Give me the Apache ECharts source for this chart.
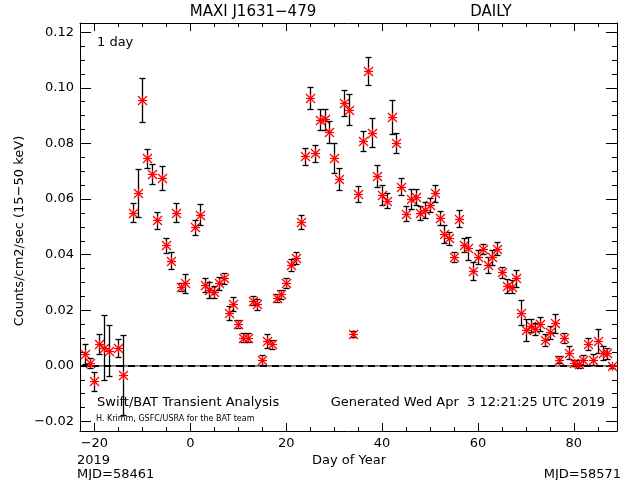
<!DOCTYPE html>
<html><head><meta charset="utf-8">
<script src="https://cdn.jsdelivr.net/npm/echarts@6/dist/echarts.min.js"></script>
<style>html,body{margin:0;padding:0;background:#fff}#c{width:640px;height:480px}</style>
</head><body><div id="c"></div>
<script>
// Day of year 2019 (MJD - 58483)
const days = [-22,-21,-20,-19,-18,-17,-15,-14,-12,-11,-10,-9,-8,-7,-6,-5,-4,-3,-2,-1,
  1,2,3,4,5,6,7,8,9,10,11,12,13,14,15,16,17,18,19,20,21,22,23,24,25,26,27,28,29,30,
  31,32,33,34,35,36,37,38,39,40,41,42,43,44,45,46,47,48,49,50,51,52,53,54,55,56,57,58,59,60,
  61,62,63,64,65,66,67,68,69,70,71,72,73,74,75,76,77,78,79,80,81,82,83,84,85,86,87,88];
const rates = [0.0042,0.0010,-0.0056,0.0078,0.0066,0.0055,0.0064,-0.0032,0.0551,0.0623,0.0956,0.0746,0.0690,0.0524,0.0675,0.0433,0.0379,0.0550,0.0283,0.0297,
  0.0498,0.0543,0.0291,0.0273,0.0265,0.0297,0.0315,0.0190,0.0222,0.0150,0.0102,0.0102,0.0235,0.0222,0.0022,0.0090,0.0078,0.0243,0.0258,0.0297,0.0363,0.0387,0.0516,0.0753,0.0963,0.0765,0.0885,0.0887,0.0841,0.0747,
  0.0672,0.0945,0.0921,0.0115,0.0618,0.0809,0.1061,0.0839,0.0683,0.0613,0.0594,0.0894,0.0801,0.0645,0.0547,0.0600,0.0608,0.0549,0.0561,0.0579,0.0621,0.0531,0.0475,0.0459,0.0391,0.0529,0.0435,0.0423,0.0342,0.0393,
  0.0420,0.0363,0.0391,0.0421,0.0337,0.0288,0.0285,0.0315,0.0192,0.0130,0.0144,0.0133,0.0151,0.0094,0.0121,0.0153,0.0022,0.0100,0.0048,0.0010,0.0007,0.0022,0.0079,0.0022,0.0091,0.0048,0.0046,-0.0002];
const errors = [0.0036,0.0019,0.0035,0.0035,0.0116,0.0093,0.0033,0.0143,0.0034,0.0086,0.0079,0.0035,0.0035,0.0030,0.0044,0.0027,0.0030,0.0034,0.0015,0.0035,
  0.0027,0.0038,0.0024,0.0030,0.0022,0.0024,0.0019,0.0024,0.0025,0.0015,0.0017,0.0017,0.0015,0.0020,0.0018,0.0025,0.0016,0.0014,0.0016,0.0018,0.0022,0.0022,0.0025,0.0032,0.0041,0.0030,0.0038,0.0037,0.0040,0.0054,
  0.0041,0.0046,0.0055,0.0012,0.0028,0.0036,0.0050,0.0052,0.0038,0.0036,0.0027,0.0061,0.0036,0.0030,0.0027,0.0036,0.0028,0.0026,0.0029,0.0024,0.0030,0.0026,0.0032,0.0024,0.0018,0.0031,0.0025,0.0041,0.0033,0.0025,
  0.0019,0.0028,0.0027,0.0023,0.0020,0.0026,0.0023,0.0031,0.0045,0.0039,0.0023,0.0021,0.0025,0.0021,0.0024,0.0034,0.0012,0.0018,0.0024,0.0012,0.0015,0.0019,0.0021,0.0020,0.0043,0.0025,0.0020,0.0005];
const xRange = [-23, 89];
const yRange = [-0.0234, 0.1233];
const zeroLine = [[-23, 0], [89, 0]];

const FONT = 'DejaVu Sans';
const fmt = (v, d) => (v < 0 ? '\u2212' : '') + Math.abs(v).toFixed(d);

function renderItem(params, api) {
  const x = api.value(0), y = api.value(1), e = api.value(2);
  const p = api.coord([x, y]);
  const t = api.coord([x, y + e]);
  const b = api.coord([x, y - e]);
  const cx = Math.round(p[0]) + 0.5;
  const cy = Math.round(p[1]) + 0.5;
  const ty = Math.round(t[1]) + 0.5, by = Math.round(b[1]) + 0.5;
  const bs = {stroke: '#000', lineWidth: 1.3};
  const rs = {stroke: '#ff0000', lineWidth: 1.2};
  const r = 4.5;
  const ch = [];
  if (by - ty > 1) {
    ch.push({type: 'line', shape: {x1: cx, y1: ty, x2: cx, y2: by}, style: bs});
    ch.push({type: 'line', shape: {x1: cx - 3, y1: ty, x2: cx + 3, y2: ty}, style: bs});
    ch.push({type: 'line', shape: {x1: cx - 3, y1: by, x2: cx + 3, y2: by}, style: bs});
  }
  ch.push({type: 'line', shape: {x1: cx - r, y1: cy, x2: cx + r, y2: cy}, style: rs});
  ch.push({type: 'line', shape: {x1: cx, y1: cy - r, x2: cx, y2: cy + r}, style: rs});
  ch.push({type: 'line', shape: {x1: cx - r, y1: cy - r, x2: cx + r, y2: cy + r}, style: rs});
  ch.push({type: 'line', shape: {x1: cx - r, y1: cy + r, x2: cx + r, y2: cy - r}, style: rs});
  ch.push({type: 'circle', shape: {cx: cx, cy: cy, r: 1.8}, style: {fill: '#ff0000'}});
  return {type: 'group', children: ch};
}

const axisCommonX = {
  type: 'value', min: xRange[0], max: xRange[1], splitNumber: 5,
  axisLine: {onZero: false, lineStyle: {color: '#000', width: 1}},
  axisTick: {inside: true, length: 8, lineStyle: {color: '#000'}},
  minorTick: {show: true, splitNumber: 4, length: 4, lineStyle: {color: '#000'}},
  splitLine: {show: false}, minorSplitLine: {show: false}
};
const axisCommonY = {
  type: 'value', min: yRange[0], max: yRange[1], splitNumber: 7,
  axisLine: {onZero: false, lineStyle: {color: '#000', width: 1}},
  axisTick: {inside: true, length: 11, lineStyle: {color: '#000'}},
  minorTick: {show: true, splitNumber: 4, length: 5, lineStyle: {color: '#000'}},
  splitLine: {show: false}, minorSplitLine: {show: false}
};

const data = days.map((d, i) => [d, rates[i], errors[i]]);

const txt = (x, y, text, size, align, extra) => Object.assign({
  type: 'text', x: x, y: y, silent: true,
  style: {text: text, fill: '#000', font: size + 'px "' + FONT + '"', fontFamily: FONT, fontSize: size,
    align: align, verticalAlign: 'middle', textAlign: align, textVerticalAlign: 'middle'}
}, extra || {});

const chart = echarts.init(document.getElementById('c'), null, {renderer: 'canvas'});
chart.setOption({
  animation: false,
  backgroundColor: '#fff',
  grid: {left: 80, top: 23, right: 23, bottom: 49, containLabel: false, outerBoundsMode: 'none'},
  xAxis: [
    Object.assign({}, axisCommonX, {position: 'bottom',
      axisLabel: {margin: 6, color: '#000', fontFamily: FONT, fontSize: 13, showMinLabel: false, showMaxLabel: false,
        formatter: v => fmt(v, 0)}}),
    Object.assign({}, axisCommonX, {position: 'top', axisLabel: {show: false}})
  ],
  yAxis: [
    Object.assign({}, axisCommonY, {position: 'left',
      axisLabel: {margin: 6, color: '#000', fontFamily: FONT, fontSize: 13, showMinLabel: false, showMaxLabel: false,
        formatter: v => fmt(v, 2)}}),
    Object.assign({}, axisCommonY, {position: 'right', axisLabel: {show: false}})
  ],
  graphic: [
    txt(253, 12, 'MAXI J1631\u2212479', 15, 'center'),
    txt(491, 12, 'DAILY', 15, 'center'),
    txt(97, 43, '1 day', 13, 'left'),
    txt(97, 403, 'Swift/BAT Transient Analysis', 13, 'left'),
    txt(605, 403, 'Generated Wed Apr  3 12:21:25 UTC 2019', 13, 'right'),
    txt(96, 419, 'H. Krimm, GSFC/USRA for the BAT team', 8, 'left'),
    txt(77, 461, '2019', 13, 'left'),
    txt(349, 461, 'Day of Year', 13, 'center'),
    txt(77, 475, 'MJD=58461', 13, 'left'),
    txt(621, 475, 'MJD=58571', 13, 'right'),
    txt(20, 231, 'Counts/cm2/sec (15\u221250 keV)', 13, 'center', {rotation: Math.PI / 2})
  ],
  series: [
    {type: 'line', data: zeroLine, symbol: 'none', silent: true,
      lineStyle: {color: '#000', width: 1}, z: 1},
    {type: 'line', data: zeroLine, symbol: 'none', silent: true,
      lineStyle: {color: '#000', width: 2, type: [7, 5]}, z: 1},
    {type: 'custom', data: data, renderItem: renderItem, clip: false, z: 3,
      encode: {x: 0, y: 1}}
  ]
});
</script></body></html>
